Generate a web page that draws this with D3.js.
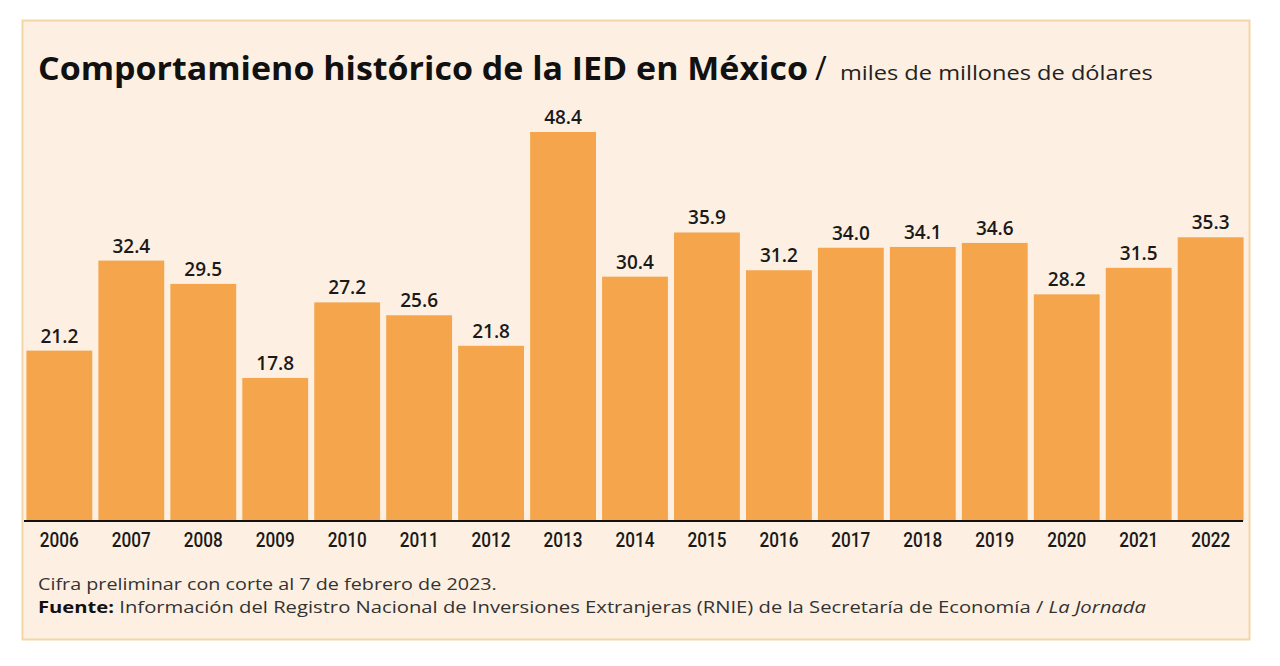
<!DOCTYPE html>
<html><head><meta charset="utf-8">
<script src="https://cdn.jsdelivr.net/npm/d3@7"></script>
<style>
html,body{margin:0;padding:0;background:#fff;}
svg{display:block;}
</style></head>
<body>
<script>
const years = ["2006","2007","2008","2009","2010","2011","2012","2013","2014","2015","2016","2017","2018","2019","2020","2021","2022"];
const values = [21.2,32.4,29.5,17.8,27.2,25.6,21.8,48.4,30.4,35.9,31.2,34.0,34.1,34.6,28.2,31.5,35.3];
const title = "Comportamieno histórico de la IED en México";
const subtitle = "miles de millones de dólares";
const note = "Cifra preliminar con corte al 7 de febrero de 2023.";
const sourceLabel = "Fuente:";
const sourceText = " Información del Registro Nacional de Inversiones Extranjeras (RNIE)  de la Secretaría de Economía / ";
const sourceItalic = "La Jornada";

const W = 1280, H = 666;
const svg = d3.select("body").append("svg").attr("width", W).attr("height", H);

// scale a left-anchored text horizontally so it spans the given width
function fitWidth(sel, x0, targetW) {
  const w = sel.node().getComputedTextLength();
  const k = targetW / w;
  sel.attr("transform", `translate(${x0},0) scale(${k},1) translate(${-x0},0)`);
}

svg.append("rect").attr("x",22.5).attr("y",20.5).attr("width",1227).attr("height",619)
  .attr("fill","#fdf0e2").attr("stroke","#f3d6a6").attr("stroke-width",2);

const x = d3.scaleBand().domain(years).range([25, 1245]).paddingInner(0.085).paddingOuter(0.02);
const y = d3.scaleLinear().domain([0, 48.4]).range([521, 132]);

svg.append("g").selectAll("rect").data(years).join("rect")
  .attr("x", d => x(d)).attr("width", x.bandwidth())
  .attr("y", (d,i) => y(values[i])).attr("height", (d,i) => y(0) - y(values[i]))
  .attr("fill", "#f5a54b");

svg.append("g").selectAll("text").data(years).join("text")
  .attr("x", d => x(d) + x.bandwidth()/2)
  .attr("y", (d,i) => y(values[i]) - 8)
  .attr("text-anchor","middle")
  .attr("font-family","'Open Sans', Lato, sans-serif")
  .attr("font-weight","600")
  .attr("font-size",19)
  .attr("fill","#1a1a1a")
  .text((d,i) => values[i].toFixed(1));

const axis = svg.append("g").attr("transform","translate(0,521)")
  .call(d3.axisBottom(x).tickSize(0).tickPadding(12));
axis.select(".domain").attr("stroke","#111").attr("stroke-width",2.2).attr("d","M24,0H1243");
axis.selectAll("text")
  .attr("font-family","Roboto, 'DejaVu Sans', sans-serif")
  .attr("font-size",20).attr("font-weight","500").attr("fill","#1a1a1a")
  .attr("dy","0.71em")
  .attr("textLength",39).attr("lengthAdjust","spacingAndGlyphs");

const t = svg.append("text").attr("x",38).attr("y",80)
  .attr("font-family","'Open Sans', Lato, sans-serif").attr("font-weight","700").attr("font-size",32).attr("fill","#111")
  .text(title);
fitWidth(t, 38, 770);
const sl = svg.append("text").attr("x",815).attr("y",80)
  .attr("font-family","'Open Sans', Lato, sans-serif").attr("font-weight","400").attr("font-size",32).attr("fill","#111")
  .text("/");
const st = svg.append("text").attr("x",840).attr("y",80)
  .attr("font-family","'Open Sans', Lato, sans-serif").attr("font-weight","400").attr("font-size",20).attr("fill","#222")
  .text(subtitle);
fitWidth(st, 840, 313);

const n = svg.append("text").attr("x",38).attr("y",590)
  .attr("font-family","'Open Sans', Lato, sans-serif").attr("font-size",16).attr("fill","#333")
  .text(note);
fitWidth(n, 38, 459);

const s = svg.append("text").attr("x",38).attr("y",613)
  .attr("font-family","'Open Sans', Lato, sans-serif").attr("font-size",16).attr("fill","#333");
s.append("tspan").attr("font-weight","700").attr("fill","#111").text(sourceLabel);
s.append("tspan").text(sourceText);
s.append("tspan").attr("font-style","italic").text(sourceItalic);
fitWidth(s, 38, 1109);
</script>
</body></html>
